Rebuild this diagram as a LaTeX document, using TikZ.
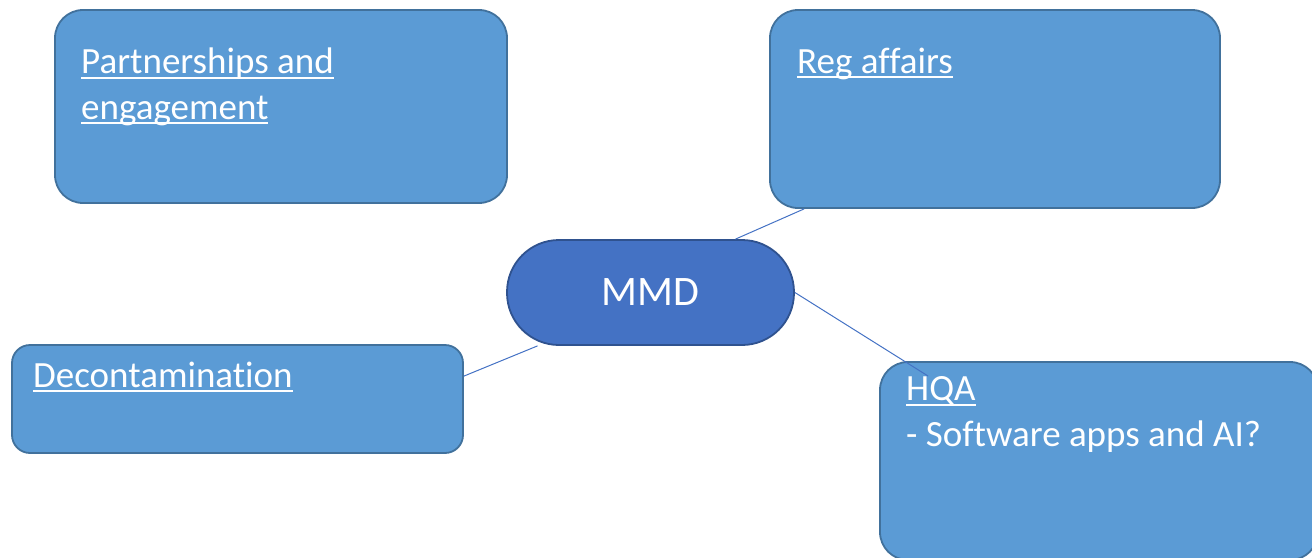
\documentclass[tikz,border=0pt]{standalone}
\usepackage{fontspec}
\setmainfont{Carlito}[Ligatures=NoCommon]
\usetikzlibrary{positioning,calc}
\definecolor{boxfill}{HTML}{5B9BD5}
\definecolor{boxline}{HTML}{41719C}
\definecolor{hubfill}{HTML}{4472C4}
\definecolor{hubline}{HTML}{2F528F}
\newcommand\undl[1]{\setbox0\hbox{#1}\rlap{\copy0}\rule[-5pt]{\wd0}{1.8pt}}

\begin{document}
\begin{tikzpicture}[x=1pt, y=-1pt,
  topic/.style={draw=boxline, fill=boxfill, line width=1.8pt, rounded corners=28pt, inner sep=0pt},
  hub/.style={draw=hubline, fill=hubfill, line width=1.8pt, rounded corners=52pt, minimum width=287pt, minimum height=105pt,
    inner sep=0pt, text=white, font=\fontsize{42}{50}\selectfont},
  ttl/.style={text=white, anchor=base west, align=left, inner sep=0pt, font=\fontsize{37}{45.5}\selectfont},
  link/.style={draw=hubfill, line width=1pt}]
\useasboundingbox (0,0) rectangle (1312,557);
\clip (0,0) rectangle (1312,557);
% topic boxes round the hub
\node[topic, minimum width=452pt, minimum height=193pt] (partner) at (281,106.5) {};
\node[topic, minimum width=450pt, minimum height=198pt] (reg) at (995,109) {};
\node[topic, minimum width=451pt, minimum height=108pt, rounded corners=18pt] (decon) at (237.5,399) {};
\node[topic, minimum width=438pt, minimum height=198pt] (hqa) at (1099,461) {};
\node[hub] (hub) at (650.5,292.5) {MMD};
\coordinate (hqapin) at (928,376);
% links
\draw[link] ($(reg.south west)+(35,0)$) -- ($(hub.north)+(85,0)$);
\draw[link] (hub.east) -- (hqapin);
\draw[link] ($(decon.north east)+(0,32)$) -- ($(hub.south)+(-113,0)$);
% titles (base = last line)
\node[ttl] (partnertxt) at (81,119) {\undl{Partnerships and}\\\undl{engagement}};
\node[ttl] (regtxt) at (797,73) {\undl{Reg affairs}};
\node[ttl] (decontxt) at (33,387) {\undl{Decontamination}};
\node[ttl] (hqatxt) at (906,446) {\undl{HQA}\\- Software apps and AI?};
\end{tikzpicture}
\end{document}
